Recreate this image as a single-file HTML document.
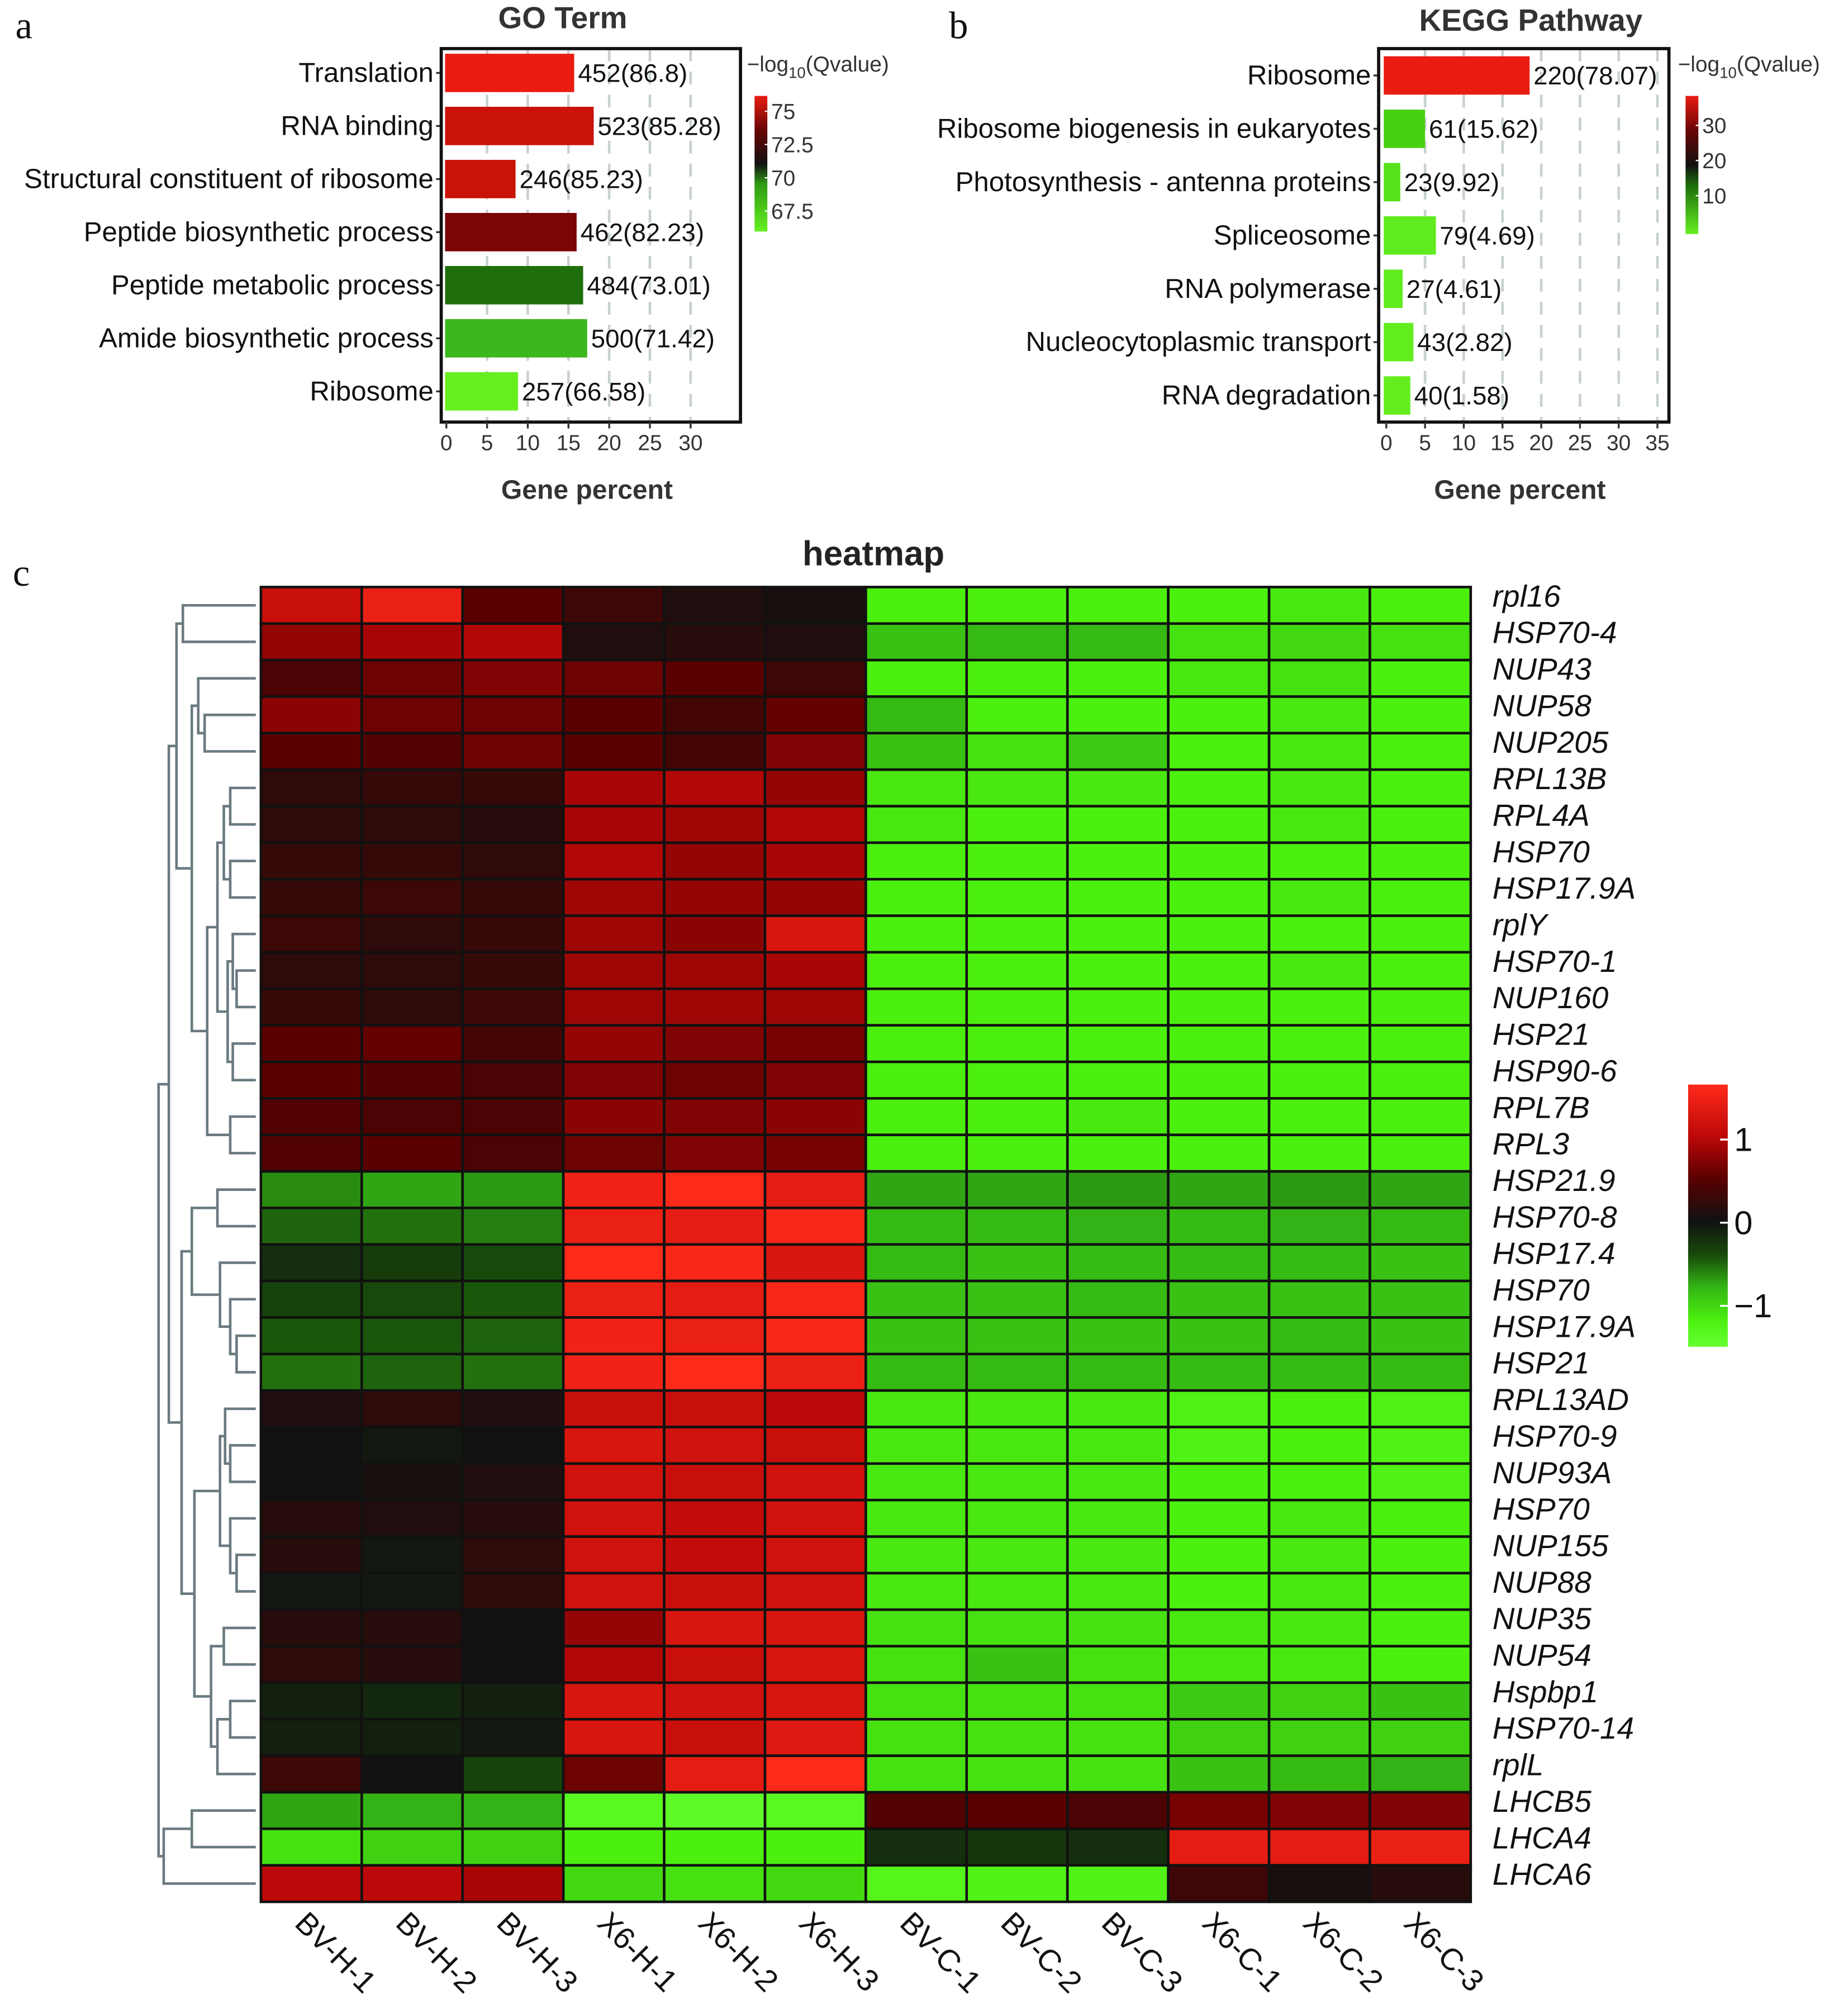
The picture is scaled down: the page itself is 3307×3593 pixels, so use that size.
<!DOCTYPE html>
<html><head><meta charset="utf-8"><style>
html,body{margin:0;padding:0;background:#fff;}
svg{display:block;font-family:"Liberation Sans",sans-serif;}
</style></head><body>
<svg id="fig" width="3307" height="3593" viewBox="0 0 1445 1570" xmlns="http://www.w3.org/2000/svg">
<rect width="1445" height="1570" fill="#fff"/>
<defs>
<linearGradient id="goGrad" x1="0" y1="1" x2="0" y2="0">
<stop offset="0" stop-color="#66f020"/><stop offset="0.35" stop-color="#2e9a14"/><stop offset="0.5" stop-color="#111"/><stop offset="0.75" stop-color="#6a0505"/><stop offset="1" stop-color="#e81c12"/>
</linearGradient>
<linearGradient id="keggGrad" x1="0" y1="1" x2="0" y2="0">
<stop offset="0" stop-color="#66f020"/><stop offset="0.35" stop-color="#1e6e0c"/><stop offset="0.5" stop-color="#111"/><stop offset="0.75" stop-color="#6a0505"/><stop offset="1" stop-color="#e81c12"/>
</linearGradient>
<linearGradient id="hmGrad" x1="0" y1="1" x2="0" y2="0">
<stop offset="0" stop-color="#66ff33"/><stop offset="0.1" stop-color="#4cf00f"/><stop offset="0.23" stop-color="#33b315"/><stop offset="0.35" stop-color="#174a0a"/><stop offset="0.48" stop-color="#111"/><stop offset="0.64" stop-color="#5a0000"/><stop offset="0.8" stop-color="#bb0808"/><stop offset="1" stop-color="#ff2a1a"/>
</linearGradient>
</defs>
<g id="root"></g>
</svg>
<script>
// ---- Panel a data ----
const goTerms = ["Translation","RNA binding","Structural constituent of ribosome","Peptide biosynthetic process","Peptide metabolic process","Amide biosynthetic process","Ribosome"];
const goPercent = [15.7,18.1,8.5,16.0,16.8,17.3,8.8];
const goCounts = [452,523,246,462,484,500,257];
const goQ = [86.8,85.28,85.23,82.23,73.01,71.42,66.58];
const goTicks = [0,5,10,15,20,25,30];
const goLegendTicks = [75,72.5,70,67.5];
// ---- Panel b data ----
const keggTerms = ["Ribosome","Ribosome biogenesis in eukaryotes","Photosynthesis - antenna proteins","Spliceosome","RNA polymerase","Nucleocytoplasmic transport","RNA degradation"];
const keggPercent = [18.5,5.0,1.8,6.4,2.1,3.5,3.1];
const keggCounts = [220,61,23,79,27,43,40];
const keggQ = [78.07,15.62,9.92,4.69,4.61,2.82,1.58];
const keggTicks = [0,5,10,15,20,25,30,35];
const keggLegendTicks = [30,20,10];
// ---- Heatmap data ----
const hmCols = ["BV-H-1","BV-H-2","BV-H-3","X6-H-1","X6-H-2","X6-H-3","BV-C-1","BV-C-2","BV-C-3","X6-C-1","X6-C-2","X6-C-3"];
const hmRows = ["rpl16","HSP70-4","NUP43","NUP58","NUP205","RPL13B","RPL4A","HSP70","HSP17.9A","rplY","HSP70-1","NUP160","HSP21","HSP90-6","RPL7B","RPL3","HSP21.9","HSP70-8","HSP17.4","HSP70","HSP17.9A","HSP21","RPL13AD","HSP70-9","NUP93A","HSP70","NUP155","NUP88","NUP35","NUP54","Hspbp1","HSP70-14","rplL","LHCB5","LHCA4","LHCA6"];
const hmValues = [
[1.1,1.35,0.5,0.3,0.1,0.05,-1.2,-1.2,-1.2,-1.2,-1.15,-1.2],
[0.8,0.9,0.95,0.1,0.15,0.1,-0.9,-0.85,-0.85,-1.1,-1.05,-1.1],
[0.4,0.6,0.7,0.6,0.5,0.3,-1.2,-1.2,-1.2,-1.15,-1.1,-1.2],
[0.75,0.6,0.6,0.5,0.35,0.55,-0.85,-1.2,-1.2,-1.2,-1.15,-1.2],
[0.5,0.45,0.6,0.5,0.35,0.7,-0.9,-1.1,-0.95,-1.2,-1.15,-1.2],
[0.2,0.25,0.25,0.9,0.95,0.8,-1.15,-1.15,-1.15,-1.2,-1.15,-1.2],
[0.2,0.2,0.15,0.9,0.85,0.95,-1.15,-1.2,-1.2,-1.2,-1.15,-1.2],
[0.25,0.25,0.2,0.95,0.8,0.9,-1.2,-1.2,-1.2,-1.2,-1.2,-1.2],
[0.25,0.3,0.25,0.85,0.8,0.8,-1.2,-1.2,-1.2,-1.2,-1.15,-1.2],
[0.3,0.2,0.25,0.85,0.75,1.2,-1.2,-1.2,-1.2,-1.2,-1.2,-1.2],
[0.2,0.2,0.25,0.85,0.85,0.9,-1.2,-1.2,-1.2,-1.2,-1.15,-1.2],
[0.25,0.2,0.3,0.85,0.85,0.85,-1.2,-1.2,-1.2,-1.2,-1.2,-1.2],
[0.5,0.55,0.35,0.8,0.7,0.65,-1.2,-1.2,-1.2,-1.2,-1.2,-1.2],
[0.5,0.45,0.4,0.7,0.6,0.7,-1.2,-1.2,-1.2,-1.2,-1.2,-1.2],
[0.45,0.4,0.4,0.75,0.7,0.75,-1.2,-1.2,-1.15,-1.2,-1.2,-1.2],
[0.45,0.5,0.4,0.6,0.7,0.65,-1.2,-1.2,-1.2,-1.2,-1.2,-1.2],
[-0.65,-0.75,-0.7,1.4,1.55,1.3,-0.75,-0.75,-0.7,-0.75,-0.7,-0.75],
[-0.5,-0.55,-0.6,1.35,1.3,1.45,-0.85,-0.85,-0.8,-0.85,-0.8,-0.85],
[-0.2,-0.3,-0.4,1.5,1.45,1.2,-0.85,-0.9,-0.85,-0.85,-0.85,-0.9],
[-0.35,-0.4,-0.45,1.35,1.3,1.45,-0.9,-0.9,-0.85,-0.9,-0.9,-0.9],
[-0.45,-0.45,-0.5,1.4,1.35,1.45,-0.9,-0.9,-0.9,-0.9,-0.85,-0.9],
[-0.55,-0.5,-0.55,1.4,1.5,1.35,-0.85,-0.85,-0.85,-0.85,-0.85,-0.85],
[0.1,0.2,0.1,1.1,1.1,1.0,-1.15,-1.15,-1.15,-1.25,-1.2,-1.25],
[0.0,-0.05,0.0,1.2,1.15,1.1,-1.15,-1.15,-1.15,-1.25,-1.2,-1.25],
[0.0,0.05,0.1,1.15,1.1,1.15,-1.15,-1.15,-1.15,-1.2,-1.2,-1.25],
[0.15,0.1,0.15,1.15,1.05,1.15,-1.15,-1.15,-1.15,-1.2,-1.15,-1.2],
[0.15,-0.05,0.2,1.15,1.05,1.15,-1.15,-1.15,-1.15,-1.2,-1.15,-1.2],
[-0.05,-0.05,0.2,1.15,1.1,1.15,-1.15,-1.15,-1.15,-1.2,-1.15,-1.2],
[0.15,0.15,0.0,0.8,1.2,1.2,-1.1,-1.1,-1.1,-1.15,-1.15,-1.2],
[0.2,0.15,0.0,0.95,1.1,1.2,-1.1,-0.9,-1.1,-1.15,-1.15,-1.2],
[-0.1,-0.15,-0.1,1.2,1.15,1.2,-1.1,-1.1,-1.1,-0.95,-1.0,-0.9],
[-0.1,-0.1,-0.05,1.2,1.1,1.25,-1.1,-1.1,-1.1,-1.0,-1.0,-1.0],
[0.3,0.0,-0.35,0.6,1.3,1.5,-1.1,-1.1,-1.1,-0.9,-0.85,-0.8],
[-0.75,-0.8,-0.8,-1.35,-1.4,-1.35,0.45,0.5,0.4,0.65,0.7,0.7],
[-1.1,-1.0,-1.0,-1.2,-1.2,-1.2,-0.2,-0.25,-0.2,1.3,1.3,1.35],
[1.0,1.0,0.9,-1.05,-1.1,-1.05,-1.3,-1.25,-1.25,0.3,0.05,0.15]
];
const hmLegendTicks = [1,0,-1];
// dendrogram: [height, left, right] or leaf index
const dendro = [76,[68,
  [62,[57,0,1],[50,[45,2,[40,3,4]],[38,[30,[25,[20,5,6],[20,7,8]],[22,[18,9,[15,10,11]],[18,12,13]]],[20,14,15]]]],
  [58,[50,[30,16,17],[28,18,[20,19,[15,20,21]]]],[48,[28,[24,22,[20,23,24]],[20,25,[15,26,27]]],[35,[25,28,29],[30,[20,30,31],32]]]]],
  [72,[50,33,34],35]];

const NS="http://www.w3.org/2000/svg";
const root=document.getElementById('root');
function mk(tag,attrs,parent){const e=document.createElementNS(NS,tag);for(const k in attrs)e.setAttribute(k,attrs[k]);(parent||root).appendChild(e);return e;}
function txt(s,attrs,parent){const e=mk('text',attrs,parent);e.textContent=s;return e;}
function lerp(a,b,t){return a+(b-a)*t;}
function hex(c){return [parseInt(c.slice(1,3),16),parseInt(c.slice(3,5),16),parseInt(c.slice(5,7),16)];}
function scaleColor(stops,v){
  if(v<=stops[0][0])return stops[0][1];
  if(v>=stops[stops.length-1][0])return stops[stops.length-1][1];
  for(let i=0;i<stops.length-1;i++){const[a,ca]=stops[i],[b,cb]=stops[i+1];
    if(v>=a&&v<=b){const t=(v-a)/(b-a),A=hex(ca),B=hex(cb);
      return 'rgb('+A.map((x,j)=>Math.round(lerp(x,B[j],t))).join(',')+')';}}
}
const goStops=[[66.5,"#66f020"],[71.4,"#3cb81c"],[73,"#1f6e0c"],[77,"#200000"],[82.2,"#780505"],[85.2,"#c81208"],[86.8,"#ea1c12"]];
const keggStops=[[0,"#66f020"],[8,"#5ae81c"],[16,"#44d010"],[40,"#3a0404"],[60,"#b00a08"],[78,"#ea1c12"]];
const hmStops=[[-1.5,"#66ff33"],[-1.2,"#4cf00f"],[-0.8,"#33b315"],[-0.4,"#174a0a"],[0,"#111111"],[0.5,"#5a0000"],[1,"#bb0808"],[1.5,"#ff2a1a"]];

function barPanel(o){
  const g=mk('g',{});
  
  
  const xs=v=>o.x0+v*o.k;
  o.ticks.forEach(t=>{if(t>0){const l=mk('line',{x1:xs(t),x2:xs(t),y1:o.top,y2:o.bottom,stroke:'#c8d0d0','stroke-width':2,'stroke-dasharray':'10,8'},g);
    }});
  o.terms.forEach((term,i)=>{
    const y=o.rowY(i);
    const r=mk('rect',{x:o.barX,y:y-15,width:xs(o.pct[i])-o.barX,height:30,fill:scaleColor(o.stops,o.q[i])},g);
    
    const lab=txt(term,{x:o.left-6,y:y+7,'text-anchor':'end','font-size':21.5,fill:'#111'},g);
    
    mk('line',{x1:o.left-4,x2:o.left,y1:y,y2:y,stroke:'#333','stroke-width':1.5},g);
    const v=txt(o.counts[i]+'('+o.q[i]+')',{x:xs(o.pct[i])+3,y:y+7,'font-size':20,fill:'#111'},g);
    
  });
  const box=mk('rect',{x:o.left,y:o.top,width:o.right-o.left,height:o.bottom-o.top,fill:'none',stroke:'#111','stroke-width':2.5},g);
  
  o.ticks.forEach(t=>{mk('line',{x1:xs(t),x2:xs(t),y1:o.bottom,y2:o.bottom+5,stroke:'#333','stroke-width':1.5},g);
    const tl=txt(String(t),{x:xs(t),y:o.bottom+22,'text-anchor':'middle','font-size':17,fill:'#333'},g);
    });
  const at=txt('Gene percent',{x:(o.left+o.right)/2-3,y:390,'text-anchor':'middle','font-size':21,'font-weight':'bold',fill:'#333'},g);
  
  const tt=txt(o.title,{x:o.titleX,y:o.titleY,'text-anchor':'middle','font-size':24,'font-weight':'bold',fill:'#333'},g);
  
  const lg=mk('g',{},g);
  const lt=mk('text',{x:o.legX-6,y:56,'font-size':17,fill:'#333'},lg);
  lt.innerHTML='−log<tspan font-size="12" dy="5">10</tspan><tspan dy="-5">(Qvalue)</tspan>';
  mk('rect',{x:o.legX,y:o.legTop,width:10,height:o.legBot-o.legTop,fill:'url(#'+o.grad+')'},lg);
  o.legTicks.forEach(t=>{const y=o.legY(t);mk('line',{x1:o.legX+8,x2:o.legX+10,y1:y,y2:y,stroke:'#fff'},lg);
    const l=txt(String(t),{x:o.legX+13,y:y+6,'font-size':17,fill:'#333'},lg);
    });
}
barPanel({name:'go-term-chart',terms:goTerms,pct:goPercent,counts:goCounts,q:goQ,ticks:goTicks,stops:goStops,
  x0:349,k:191/30,barX:348,left:345,right:579,top:38,bottom:330,rowY:i=>57+i*41.5,title:'GO Term',titleX:440,titleY:22,
  legX:590,legTop:75,legBot:181,legTicks:goLegendTicks,legY:t=>87+(75-t)/2.5*26,grad:'goGrad'});
barPanel({name:'kegg-pathway-chart',terms:keggTerms,pct:keggPercent,counts:keggCounts,q:keggQ,ticks:keggTicks,stops:keggStops,
  x0:1084,k:212/35,barX:1082,left:1078,right:1305,top:38,bottom:330,rowY:i=>59+i*41.7,title:'KEGG Pathway',titleX:1197,titleY:24,
  legX:1318,legTop:75,legBot:183,legTicks:keggLegendTicks,legY:t=>98+(30-t)/10*27.5,grad:'keggGrad'});

[['a',12,30],['b',742,30],['c',10,458]].forEach(([s,x,y])=>{const t=txt(s,{x:x,y:y,'font-size':30,'font-family':'"Liberation Serif",serif',fill:'#111'});
  });

const HX=204,HY=459,CW=(1150-204)/12,RH=(1487-459)/36;
const hg=mk('g',{});
const ht=txt('heatmap',{x:683,y:442,'text-anchor':'middle','font-size':27,'font-weight':'bold',fill:'#222'},hg);

hmValues.forEach((row,r)=>row.forEach((v,c)=>{
  const cell=mk('rect',{x:HX+c*CW,y:HY+r*RH,width:CW,height:RH,fill:scaleColor(hmStops,v),stroke:'#111','stroke-width':2},hg);
  
}));
hmRows.forEach((n,r)=>{const t=txt(n,{x:1167,y:HY+r*RH+RH/2+1,'font-size':24,'font-style':'italic',fill:'#111'},hg);
  });
hmCols.forEach((n,c)=>{const cx=HX+c*CW+CW/2-14,cy=1505;
  const t=txt(n,{x:cx,y:cy,'font-size':24,fill:'#111',transform:'rotate(45 '+cx+' '+cy+')'},hg);
  });
const dg=mk('g',{stroke:'#6a7a80','stroke-width':2,fill:'none'});

const dx=h=>200-h;
function draw(node){
  if(typeof node==='number')return {x:200,y:HY+node*RH+RH/2};
  const a=draw(node[1]),b=draw(node[2]),x=dx(node[0]);
  mk('path',{d:'M'+a.x+' '+a.y+'H'+x+'V'+b.y+'H'+b.x},dg);
  return {x:x,y:(a.y+b.y)/2};
}
draw(dendro);
const hl=mk('g',{});
mk('rect',{x:1320,y:848,width:31,height:205,fill:'url(#hmGrad)'},hl);
hmLegendTicks.forEach(t=>{const y=956-t*65;
  mk('line',{x1:1345,x2:1351,y1:y,y2:y,stroke:'#fff','stroke-width':1.5},hl);
  const l=txt(t<0?'−'+Math.abs(t):String(t),{x:1356,y:y+9,'font-size':26,fill:'#111'},hl);
  });
</script>
</body></html>
